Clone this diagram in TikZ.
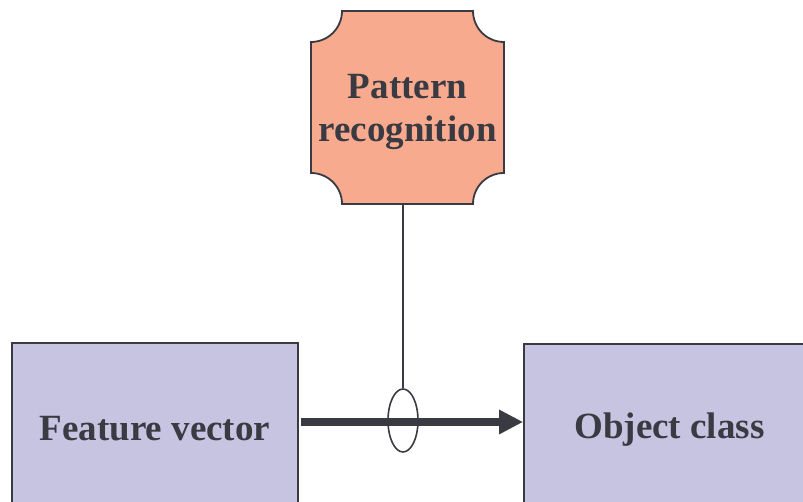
\documentclass[tikz,border=0pt]{standalone}
\usepackage{fontspec}
\setmainfont{Liberation Serif}
\usetikzlibrary{shapes.geometric,arrows.meta}
\definecolor{inkgray}{HTML}{3A3A42}
\definecolor{boxlilac}{HTML}{C7C4E2}
\definecolor{boxsalmon}{HTML}{F8AA8F}
\begin{document}
\begin{tikzpicture}[x=1pt,y=1pt,
  lbl/.style={text=inkgray,font=\fontsize{37}{43}\selectfont\bfseries,align=center},
  block/.style={draw=inkgray,line width=1.8pt,fill=boxlilac,rectangle,inner sep=0pt,lbl},
  link/.style={draw=inkgray,line width=1.6pt}]
\useasboundingbox (0,0) rectangle (803,502);
\clip (0,0) rectangle (803,502);

% input and output blocks (running off the lower and right edges)
\node[block,minimum width=286,minimum height=171] (feat) at (155,73.5) {Feature vector};
\node[block,minimum width=291,minimum height=172] (obj) at (669.5,72) {Object class};

% classifier block with concave corners
\def\rr{31}
\filldraw[fill=boxsalmon,draw=inkgray,line width=1.8pt]
  (311+\rr,491) -- (504-\rr,491)
  arc[start angle=180,end angle=270,radius=\rr] -- (504,298+\rr)
  arc[start angle=90,end angle=180,radius=\rr] -- (311+\rr,298)
  arc[start angle=0,end angle=90,radius=\rr] -- (311,491-\rr)
  arc[start angle=270,end angle=360,radius=\rr] -- cycle;
\node[lbl,inner sep=0pt,minimum width=193,minimum height=185] (pr) at (407.5,390.5) {Pattern\\recognition};

% tap on the main flow
\node[draw=inkgray,line width=1.6pt,ellipse,minimum width=30,minimum height=63,inner sep=0pt] (tap) at (403,81.5) {};

\draw[inkgray,line width=7.5pt,-{Triangle[length=24pt,width=23pt]}] (feat.east) ++(2,6.5) coordinate (fs) -- (fs -| obj.west);
\draw[link] (tap.north |- pr.south) -- (tap.north);
\end{tikzpicture}
\end{document}
